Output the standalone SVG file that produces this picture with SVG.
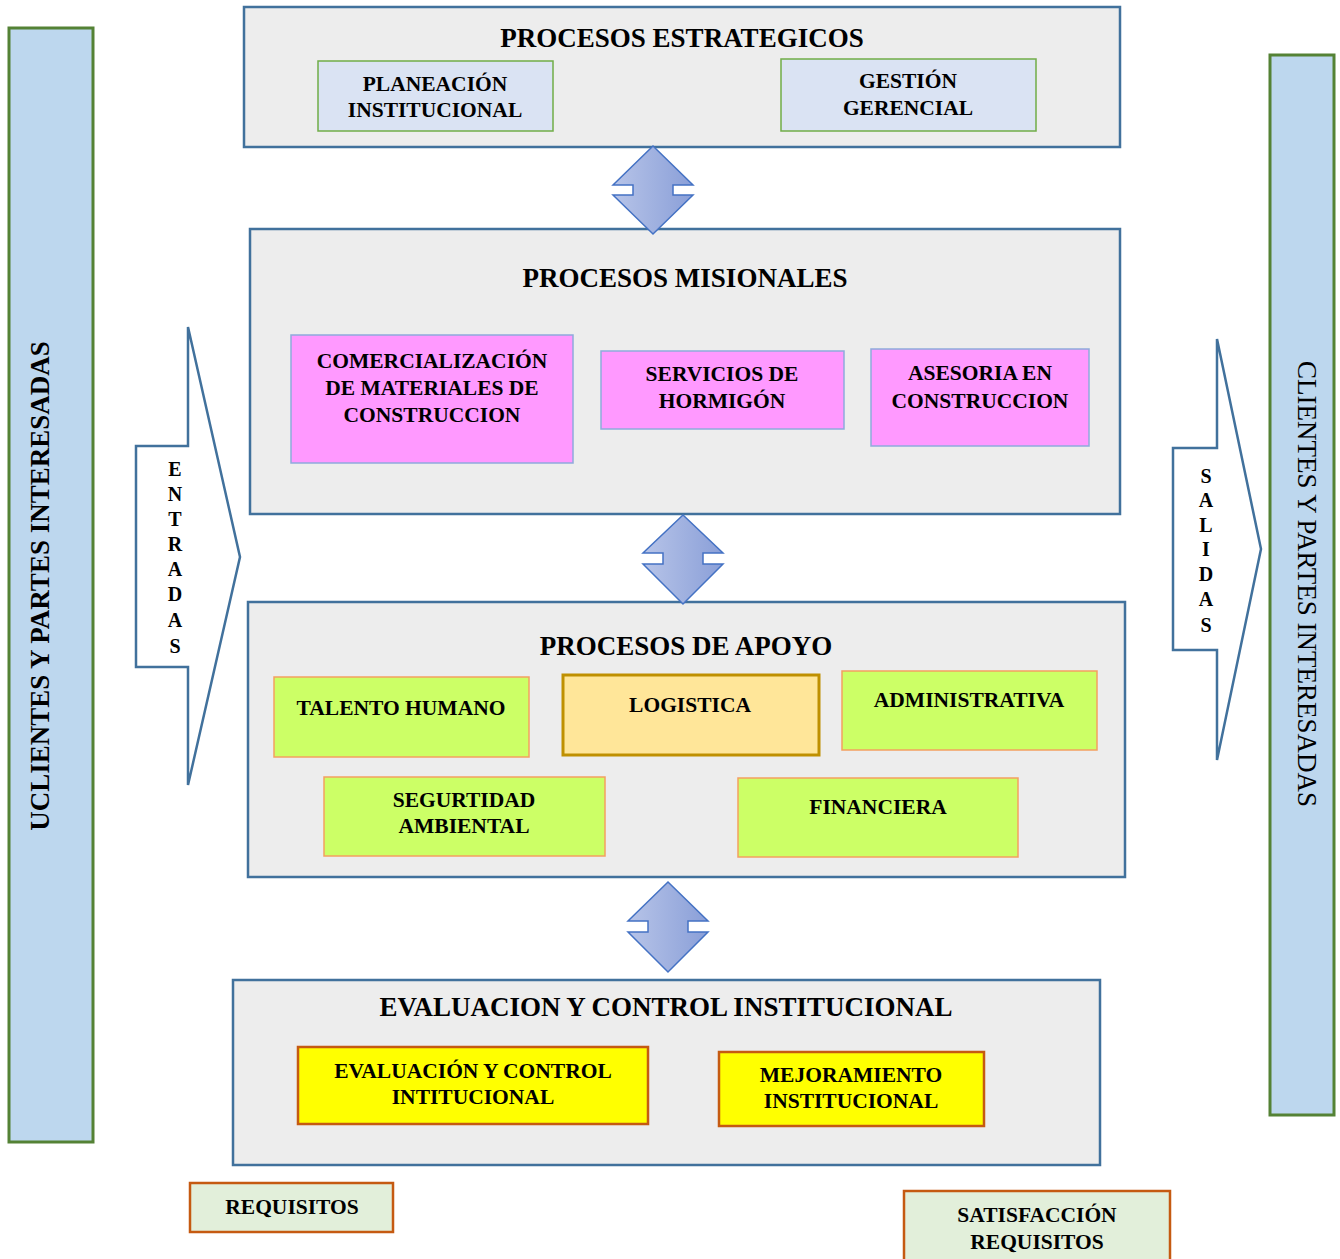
<svg xmlns="http://www.w3.org/2000/svg" width="1340" height="1259" viewBox="0 0 1340 1259">
  <defs>
    <linearGradient id="dblArrowFill" x1="0" y1="0" x2="1" y2="0">
      <stop offset="0" stop-color="#B7C4E8"/>
      <stop offset="1" stop-color="#8A9FD8"/>
    </linearGradient>
    <style>
      text { font-family: "Liberation Serif", "Times New Roman", serif; fill: #000; }
      .t-title { font-size: 27px; font-weight: bold; text-anchor: middle; }
      .t-box { font-size: 21.5px; font-weight: bold; text-anchor: middle; }
      .t-letter { font-size: 20px; font-weight: bold; text-anchor: middle; }
      .t-side { font-size: 27px; text-anchor: middle; }
      .side { fill: #BDD7EE; stroke: #548235; stroke-width: 3; }
      .panel { fill: #EDEDED; stroke: #41719C; stroke-width: 2.5; }
      .blue-box { fill: #DAE3F3; stroke: #70AD47; stroke-width: 1.5; }
      .pink-box { fill: #FF99FF; stroke: #8FAADC; stroke-width: 1.5; }
      .lime-box { fill: #CCFF66; stroke: #F4A060; stroke-width: 1.5; }
      .gold-box { fill: #FFE699; stroke: #BF9000; stroke-width: 3; }
      .yellow-box { fill: #FFFF00; stroke: #C55A11; stroke-width: 2.5; }
      .green-box { fill: #E2EFDA; stroke: #C55A11; stroke-width: 2.5; }
      .big-arrow { fill: #FFFFFF; stroke: #41719C; stroke-width: 2.5; stroke-linejoin: miter; }
      .dbl-arrow { fill: url(#dblArrowFill); stroke: #4472C4; stroke-width: 1.5; }
    </style>
  </defs>

  <rect width="1340" height="1259" fill="#FFFFFF"/>

  <!-- side bars -->
  <g id="side-left">
    <rect class="side" x="9" y="28" width="84" height="1114"/>
    <text class="t-side" font-weight="bold" transform="translate(49,586) rotate(-90)">UCLIENTES Y PARTES INTERESADAS</text>
  </g>
  <g id="side-right">
    <rect class="side" x="1270" y="55" width="64" height="1060"/>
    <text class="t-side" transform="translate(1298,584) rotate(90)">CLIENTES Y PARTES INTERESADAS</text>
  </g>

  <!-- inputs / outputs block arrows -->
  <g id="entradas">
    <polygon class="big-arrow" points="188,327 240,557 188,785 188,667 136,667 136,446 188,446"/>
    <text class="t-letter" x="175" y="476">E</text>
    <text class="t-letter" x="175" y="501">N</text>
    <text class="t-letter" x="175" y="526">T</text>
    <text class="t-letter" x="175" y="551">R</text>
    <text class="t-letter" x="175" y="576">A</text>
    <text class="t-letter" x="175" y="601">D</text>
    <text class="t-letter" x="175" y="627">A</text>
    <text class="t-letter" x="175" y="653">S</text>
  </g>
  <g id="salidas">
    <polygon class="big-arrow" points="1217,339 1261,549 1217,760 1217,650 1173,650 1173,448 1217,448"/>
    <text class="t-letter" x="1206" y="483">S</text>
    <text class="t-letter" x="1206" y="507">A</text>
    <text class="t-letter" x="1206" y="532">L</text>
    <text class="t-letter" x="1206" y="556">I</text>
    <text class="t-letter" x="1206" y="581">D</text>
    <text class="t-letter" x="1206" y="606">A</text>
    <text class="t-letter" x="1206" y="632">S</text>
  </g>

  <!-- strategic processes -->
  <g id="estrategicos">
    <rect class="panel" x="244" y="7" width="876" height="140"/>
    <text class="t-title" x="682" y="47">PROCESOS ESTRATEGICOS</text>
  </g>
  <g id="planeacion">
    <rect class="blue-box" x="318" y="61" width="235" height="70"/>
    <text class="t-box" x="435" y="91">PLANEACIÓN</text>
    <text class="t-box" x="435" y="117">INSTITUCIONAL</text>
  </g>
  <g id="gestion">
    <rect class="blue-box" x="781" y="59" width="255" height="72"/>
    <text class="t-box" x="908" y="88">GESTIÓN</text>
    <text class="t-box" x="908" y="115">GERENCIAL</text>
  </g>

  <!-- mission processes -->
  <g id="misionales">
    <rect class="panel" x="250" y="229" width="870" height="285"/>
    <text class="t-title" x="685" y="287">PROCESOS MISIONALES</text>
  </g>
  <g id="comercializacion">
    <rect class="pink-box" x="291" y="335" width="282" height="128"/>
    <text class="t-box" x="432" y="368">COMERCIALIZACIÓN</text>
    <text class="t-box" x="432" y="395">DE MATERIALES DE</text>
    <text class="t-box" x="432" y="422">CONSTRUCCION</text>
  </g>
  <g id="hormigon">
    <rect class="pink-box" x="601" y="351" width="243" height="78"/>
    <text class="t-box" x="722" y="381">SERVICIOS DE</text>
    <text class="t-box" x="722" y="408">HORMIGÓN</text>
  </g>
  <g id="asesoria">
    <rect class="pink-box" x="871" y="349" width="218" height="97"/>
    <text class="t-box" x="980" y="380">ASESORIA EN</text>
    <text class="t-box" x="980" y="408">CONSTRUCCION</text>
  </g>

  <!-- support processes -->
  <g id="apoyo">
    <rect class="panel" x="248" y="602" width="877" height="275"/>
    <text class="t-title" x="686" y="655">PROCESOS DE APOYO</text>
  </g>
  <g id="talento">
    <rect class="lime-box" x="274" y="677" width="255" height="80"/>
    <text class="t-box" x="401" y="715">TALENTO HUMANO</text>
  </g>
  <g id="logistica">
    <rect class="gold-box" x="563" y="675" width="256" height="80"/>
    <text class="t-box" x="690" y="712">LOGISTICA</text>
  </g>
  <g id="administrativa">
    <rect class="lime-box" x="842" y="671" width="255" height="79"/>
    <text class="t-box" x="969" y="707">ADMINISTRATIVA</text>
  </g>
  <g id="seguridad">
    <rect class="lime-box" x="324" y="777" width="281" height="79"/>
    <text class="t-box" x="464" y="807">SEGURTIDAD</text>
    <text class="t-box" x="464" y="833">AMBIENTAL</text>
  </g>
  <g id="financiera">
    <rect class="lime-box" x="738" y="778" width="280" height="79"/>
    <text class="t-box" x="878" y="814">FINANCIERA</text>
  </g>

  <!-- evaluation and control -->
  <g id="evaluacion">
    <rect class="panel" x="233" y="980" width="867" height="185"/>
    <text class="t-title" x="666" y="1016">EVALUACION Y CONTROL INSTITUCIONAL</text>
  </g>
  <g id="control">
    <rect class="yellow-box" x="298" y="1047" width="350" height="77"/>
    <text class="t-box" x="473" y="1078">EVALUACIÓN Y CONTROL</text>
    <text class="t-box" x="473" y="1104">INTITUCIONAL</text>
  </g>
  <g id="mejoramiento">
    <rect class="yellow-box" x="719" y="1052" width="265" height="74"/>
    <text class="t-box" x="851" y="1082">MEJORAMIENTO</text>
    <text class="t-box" x="851" y="1108">INSTITUCIONAL</text>
  </g>

  <!-- requirements / satisfaction -->
  <g id="requisitos">
    <rect class="green-box" x="190" y="1183" width="203" height="49"/>
    <text class="t-box" x="292" y="1214">REQUISITOS</text>
  </g>
  <g id="satisfaccion">
    <rect class="green-box" x="904" y="1191" width="266" height="80"/>
    <text class="t-box" x="1037" y="1222">SATISFACCIÓN</text>
    <text class="t-box" x="1037" y="1249">REQUISITOS</text>
  </g>

  <!-- two-way connectors between levels -->
  <g id="connectors">
    <polygon class="dbl-arrow" points="653,146 693,185 673,185 673,195 693,195 653,234 613,195 633,195 633,185 613,185"/>
    <polygon class="dbl-arrow" points="683,515 723,553 703,553 703,564 723,564 683,604 643,564 663,564 663,553 643,553"/>
    <polygon class="dbl-arrow" points="668,882 708,921 688,921 688,932 708,932 668,972 628,932 648,932 648,921 628,921"/>
  </g>
</svg>
